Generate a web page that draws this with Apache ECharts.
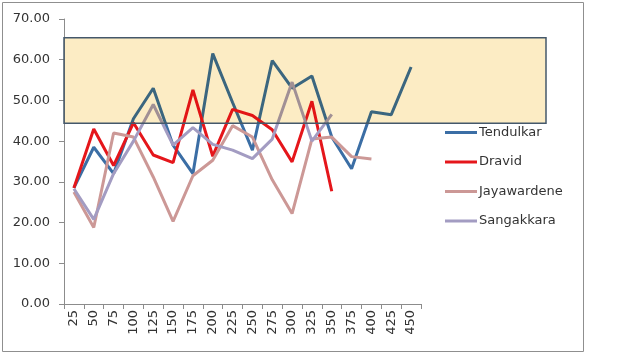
<!DOCTYPE html>
<html><head><meta charset="utf-8">
<script src="https://cdn.jsdelivr.net/npm/echarts@6/dist/echarts.min.js"></script>
<style>html,body{margin:0;padding:0;background:#fff}#c{width:628px;height:355px}</style>
</head><body><div id="c"></div>
<script>
var categories = ['25','50','75','100','125','150','175','200','225','250','275','300','325','350','375','400','425','450'];
var tendulkar = [28.5,38.5,32,45.5,53,39,32,61.5,49.5,37.8,59.8,53,56,41,33.2,47.2,46.5,58.2];
var dravid = [28.5,43,34,44.5,36.6,34.7,52.6,36.3,47.8,46.3,42.8,34.9,49.8,27.7];
var jayawardene = [27.5,18.8,42,41,31.2,20.3,31.5,35.3,43.8,41,30.5,22.2,40.5,41,36.2,35.6];
var sangakkara = [28.3,20.8,32,40,49,39,43.3,39.2,37.8,35.7,40.5,54.5,40,46.6];
var bandRange = [44.4, 65.4];
var yTicks = {min:0, max:70, interval:10};

var chart = echarts.init(document.getElementById('c'), null, {renderer:'canvas'});
var font = 'DejaVu Sans';
function line(name, data, color){
  return {name:name, type:'line', data:data, symbol:'none', lineStyle:{width:3, color:color}, itemStyle:{color:color}};
}
chart.setOption({
  animation:false,
  textStyle:{fontFamily:font},
  grid:{left:64, top:19, right:207, bottom:51, containLabel:false},
  legend:{orient:'vertical', left:445, top:126, padding:0, itemWidth:32, itemHeight:3, itemGap:16.5, icon:'rect',
    textStyle:{fontFamily:font, fontSize:13, color:'#333', padding:[0,0,0,-3]},
    data:['Tendulkar','Dravid','Jayawardene','Sangakkara']},
  xAxis:{type:'category', data:categories, boundaryGap:true,
    axisLine:{lineStyle:{color:'#8c8c8c'}}, axisTick:{show:true, length:5, lineStyle:{color:'#8c8c8c'}},
    axisLabel:{rotate:90, fontFamily:font, fontSize:13, color:'#333', margin:6, interval:0}},
  yAxis:{type:'value', min:yTicks.min, max:yTicks.max, interval:yTicks.interval,
    axisLine:{show:true, lineStyle:{color:'#8c8c8c'}}, axisTick:{show:true, length:5, lineStyle:{color:'#8c8c8c'}},
    splitLine:{show:false},
    axisLabel:{fontFamily:font, fontSize:13, color:'#333', margin:14, formatter:function(v){return v.toFixed(2);}}},
  series:[line('Tendulkar', tendulkar, '#3b6ea5'), line('Dravid', dravid, '#e5161b'),
          line('Jayawardene', jayawardene, '#cc9896'), line('Sangakkara', sangakkara, '#a39cc2')]
});
var yTop = chart.convertToPixel({yAxisIndex:0}, bandRange[1]);
var yBot = chart.convertToPixel({yAxisIndex:0}, bandRange[0]);
var xL = 64;
chart.setOption({graphic:[
  {type:'rect', z:100, silent:true, shape:{x:xL, y:yTop, width:546-xL, height:yBot-yTop},
   style:{fill:'#fcecc4', stroke:null, blend:'multiply'}},
  {type:'rect', z:101, silent:true, shape:{x:xL, y:yTop, width:546-xL, height:yBot-yTop},
   style:{fill:null, stroke:'#44586b', lineWidth:1.5}},
  {type:'rect', z:0, silent:true, shape:{x:2.5, y:2.5, width:581, height:349},
   style:{fill:null, stroke:'#8f8f8f', lineWidth:1}}
]});
</script></body></html>
